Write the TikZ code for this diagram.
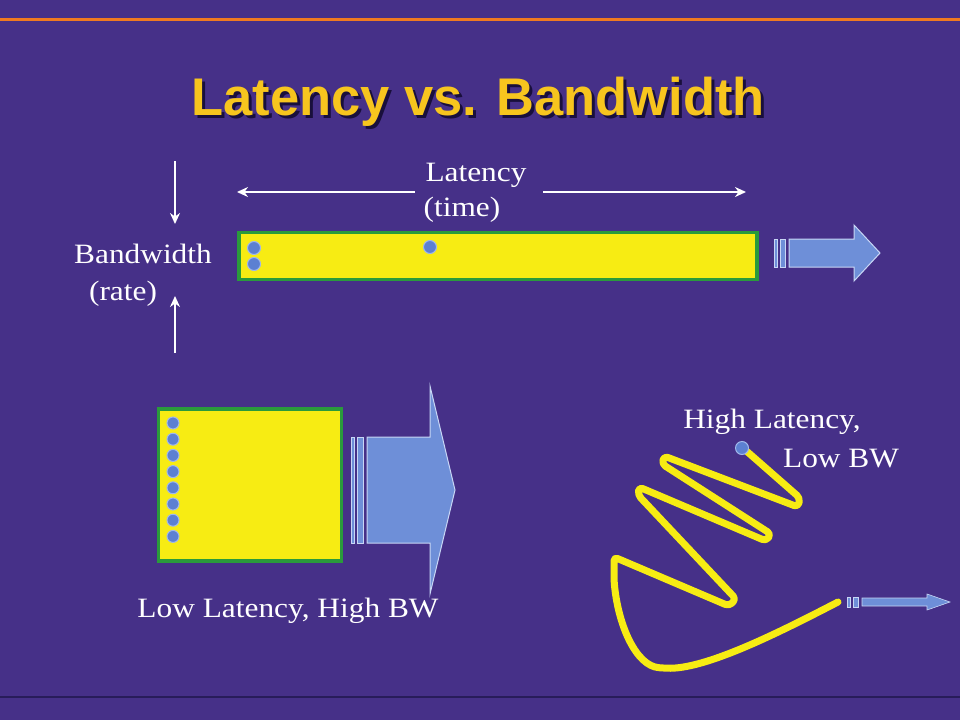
\documentclass[tikz,border=0pt]{standalone}
\usepackage{fontspec}
\setmainfont{Liberation Serif}
\newfontfamily\titlefont[FakeStretch=0.99]{Liberation Sans}
\newfontfamily\lblfont[FakeStretch=1.12]{Liberation Serif}
\usetikzlibrary{arrows.meta}
\definecolor{bgpurple}{RGB}{70,48,136}
\definecolor{orangeline}{RGB}{240,122,32}
\definecolor{darkline}{RGB}{40,28,90}
\definecolor{titleyellow}{RGB}{247,197,30}
\definecolor{titleshadow}{RGB}{25,15,60}
\definecolor{pipeyellow}{RGB}{247,236,19}
\definecolor{pipegreen}{RGB}{42,154,60}
\definecolor{dotblue}{RGB}{92,128,210}
\definecolor{dotedge}{RGB}{160,184,236}
\definecolor{arrowblue}{RGB}{110,143,216}
\definecolor{arrowedge}{RGB}{200,214,245}
\newcommand{\shadowtext}[1]{\makebox[0pt][l]{\hspace*{3pt}\raisebox{-3pt}{\color{titleshadow}#1}}#1}
\tikzset{
  lbl/.style={text=white, font=\lblfont\fontsize{28}{30}\selectfont, inner sep=0pt, anchor=base},
  pipe/.style={fill=pipeyellow, draw=pipegreen, line width=3.5pt, inner sep=0pt},
  dotnode/.style={circle, fill=dotblue, draw=dotedge, line width=1pt, minimum size=13pt, inner sep=0pt},
  wharrow/.style={draw=white, line width=1.8pt, -{Stealth[length=11pt,width=10pt]}},
  fatarrow/.style={fill=arrowblue, draw=arrowedge, line width=1pt, line join=miter},
  spiral/.style={draw=pipeyellow, line width=7pt, line cap=round, line join=round}
}
\begin{document}
\begin{tikzpicture}[x=1pt,y=-1pt]
\useasboundingbox (0,0) rectangle (960,720);
\fill[bgpurple] (0,0) rectangle (960,720);
\draw[orangeline, line width=3pt] (0,19) -- (960,19);
\draw[darkline, line width=2.5pt] (0,697) -- (960,697);

% title
\node[anchor=base, inner sep=0pt, text=titleyellow, font=\titlefont\bfseries\fontsize{53}{56}\selectfont] (title) at (478,115) {\shadowtext{Latency vs. Bandwidth}};

% top pipe
\node[pipe, minimum width=518pt, minimum height=47pt] (pipe) at (498,256) {};
\node[dotnode] (p1) at (254,248) {};
\node[dotnode] (p2) at (254,264) {};
\node[dotnode] (p3) at (430,247) {};

% labels top
\node[lbl] (bw) at (143,263) {Bandwidth};
\node[lbl] (rate) at (123,300) {(rate)};
\node[lbl] (lat) at (476,181) {Latency};
\node[lbl] (time) at (462,216) {(time)};

\coordinate (bwtop) at (175,161);
\coordinate (bwdown) at (175,224);
\coordinate (bwbot) at (175,353);
\coordinate (bwup) at (175,296);
\coordinate (latL) at (237,192);
\coordinate (latLs) at (415,192);
\coordinate (latR) at (746,192);
\coordinate (latRs) at (543,192);
\draw[wharrow] (bwtop) -- (bwdown);
\draw[wharrow] (bwbot) -- (bwup);
\draw[wharrow] (latLs) -- (latL);
\draw[wharrow] (latRs) -- (latR);

% top fat arrow
\filldraw[fatarrow] (774,239) rectangle (777,267);
\filldraw[fatarrow] (780,239) rectangle (785,267);
\filldraw[fatarrow] (789,239) -- (854,239) -- (854,225) -- (880,253) -- (854,281) -- (854,267) -- (789,267) -- cycle;

% bottom left box
\node[pipe, minimum width=183pt, minimum height=152pt] (box) at (250,485) {};
\foreach \i in {0,...,7} {
  \node[dotnode, minimum size=12pt] (b\i) at (173,{423+\i*16.2}) {};
}
\filldraw[fatarrow] (351,437) rectangle (354,543);
\filldraw[fatarrow] (357,437) rectangle (363,543);
\filldraw[fatarrow] (367,437) -- (430,437) -- (430,386) -- (455,490) -- (430,594) -- (430,543) -- (367,543) -- cycle;
\node[lbl] (low) at (288,617) {Low Latency, High BW};

% spiral
\draw[spiral, rounded corners=4pt] (743,448) -- (800,498) -- (798,507) -- (664,456) -- (662,464) -- (771,534) -- (766,541)
  -- (639,487) -- (638,495) -- (736,599) -- (729,606) -- (614,557) -- (614,580)
  .. controls (618,625) and (636,666) .. (663,668)
  .. controls (705,670) and (780,632) .. (838,602);
\node[dotnode] (sd) at (742,448) {};
\node[lbl] (hl) at (772,428) {High Latency,};
\node[lbl] (lbw) at (841,467) {Low BW};

% small arrow
\filldraw[fatarrow, line width=0.6pt] (847,597) rectangle (850,607);
\filldraw[fatarrow, line width=0.6pt] (853,597) rectangle (858,607);
\filldraw[fatarrow, line width=0.6pt] (862,598) -- (927,598) -- (927,594) -- (950,602) -- (927,610) -- (927,606) -- (862,606) -- cycle;
\end{tikzpicture}
\end{document}
